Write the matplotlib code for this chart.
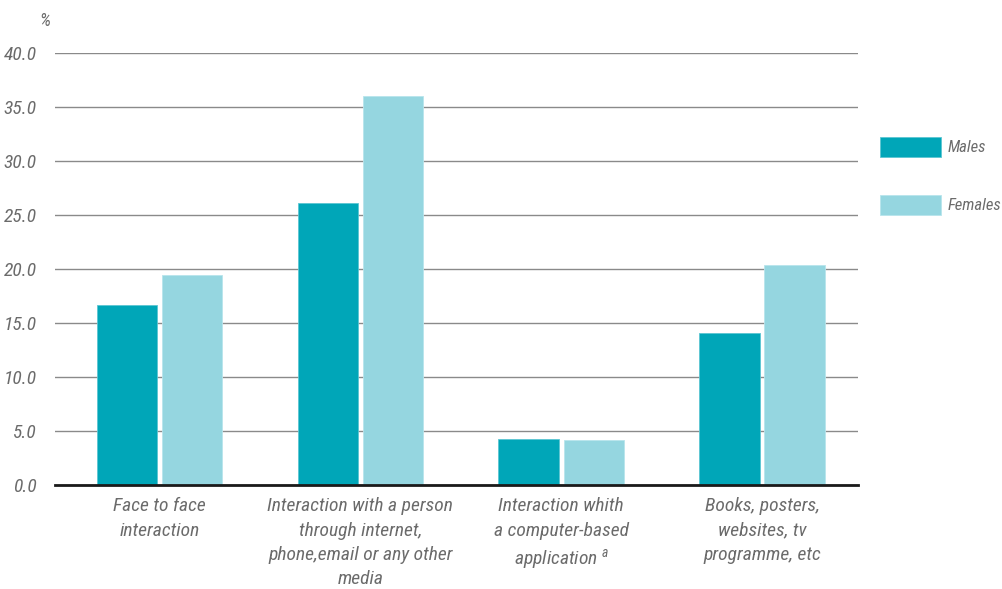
import numpy as np
import matplotlib.pyplot as plt
from matplotlib import font_manager

categories = ["Face to face\ninteraction",
              "Interaction with a person\nthrough internet,\nphone,email or any other\nmedia",
              "Interaction whith\na computer-based\napplication $^{a}$",
              "Books, posters,\nwebsites, tv\nprogramme, etc"]
males = [16.7, 26.1, 4.3, 14.1]
females = [19.4, 36.0, 4.2, 20.4]
yticks = [0, 5, 10, 15, 20, 25, 30, 35, 40]

names = {f.name for f in font_manager.fontManager.ttflist}
fam = 'Liberation Sans'
for cand in ['Liberation Sans Narrow', 'DejaVu Sans Condensed', 'Roboto Condensed',
             'Open Sans Condensed', 'Liberation Sans']:
    if cand in names:
        fam = cand
        break
plt.rcParams['font.family'] = [fam, 'DejaVu Sans']
plt.rcParams['mathtext.fontset'] = 'custom'
plt.rcParams['mathtext.it'] = fam + ':italic'

male_c = '#00a6b8'
female_c = '#95d6e0'
txt_c = '#6b6b6b'

fig = plt.figure(figsize=(10.02, 5.89), dpi=100)
ax = fig.add_axes([0.0549, 0.1766, 0.8014, 0.7334])

x = np.arange(len(categories))
w = 0.3
ax.bar(x - 0.162, males, w, color=male_c, edgecolor='#5cc6d2', linewidth=0.6, label='Males', zorder=3)
ax.bar(x + 0.162, females, w, color=female_c, edgecolor='#b8e5ec', linewidth=0.6, label='Females', zorder=3)

ax.set_xlim(-0.52, 3.478)
ax.set_ylim(0, 40)
ax.set_yticks(yticks)
ax.set_yticklabels([f"{v:.1f}" for v in yticks], fontsize=14, style='italic', color=txt_c)
ax.tick_params(axis='y', length=0, pad=13)
ax.set_xticks(x)
ax.set_xticklabels(categories, fontsize=14, style='italic', color=txt_c, linespacing=1.45)
ax.tick_params(axis='x', length=0, pad=9)

ax.yaxis.grid(True, color='#8a8a8a', linewidth=1.0, zorder=0)
for s in ['left', 'right', 'top']:
    ax.spines[s].set_visible(False)
ax.spines['bottom'].set_color('#1a1a1a')
ax.spines['bottom'].set_linewidth(2)
ax.spines['bottom'].set_zorder(4)

fig.text(0.045, 0.965, '%', fontsize=13, style='italic', color=txt_c, ha='center', va='center')

leg = ax.legend(loc='upper left', bbox_to_anchor=(1.027, 0.806), frameon=False, borderpad=0,
                handlelength=3.7, handleheight=1.45, labelspacing=2.3, handletextpad=0.4,
                borderaxespad=0, prop={'family': fam, 'style': 'italic', 'size': 12})
for t in leg.get_texts():
    t.set_color(txt_c)

fig.savefig('out.png', dpi=100)
